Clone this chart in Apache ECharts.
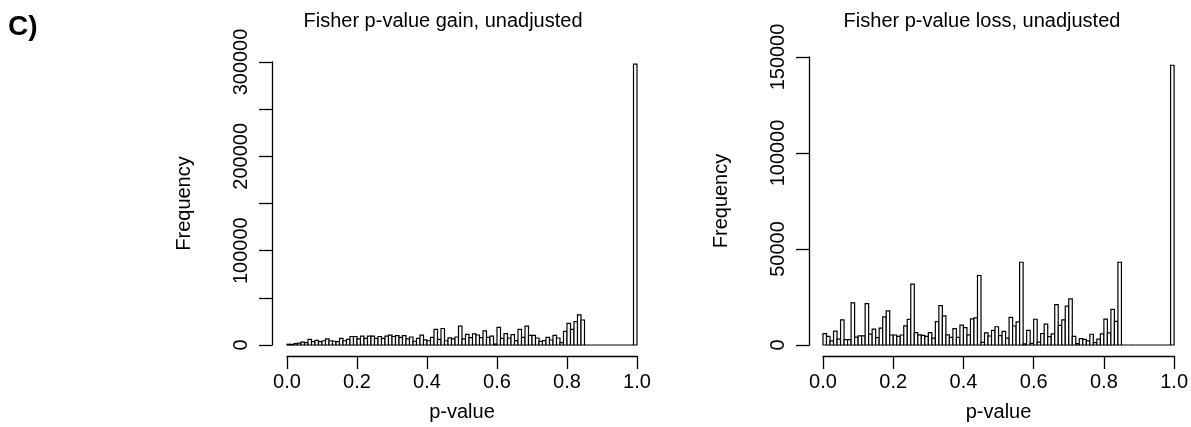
<!DOCTYPE html>
<html>
<head>
<meta charset="utf-8">
<script src="https://cdn.jsdelivr.net/npm/echarts@6/dist/echarts.min.js"></script>
<style>
  html, body { margin: 0; padding: 0; background: #fff; }
  #main { width: 1191px; height: 427px; }
</style>
</head>
<body>
<div id="main"></div>
<script>
// histogram breaks: 0.00, 0.01, ... 1.00
const binWidth = 0.01;
const xTicks = [0, 0.2, 0.4, 0.6, 0.8, 1.0];

// Fisher p-value gain, unadjusted (counts per bin)
const gainCounts = [
  800, 600, 1500, 2000, 3000, 2500, 6000, 3500, 5000, 3500,
  4500, 6500, 4500, 4000, 3500, 7000, 4500, 6000, 9000, 9000,
  6500, 9500, 7000, 9500, 9500, 7000, 9000, 7000, 9500, 10500,
  9000, 10000, 8000, 10000, 6500, 8500, 4000, 7000, 10500, 5500,
  4500, 8000, 16500, 6000, 17500, 4500, 7500, 6500, 8500, 20000,
  6500, 11300, 7800, 11700, 10600, 7800, 15000, 8000, 9500, 1000,
  18700, 7000, 12000, 7400, 11000, 4600, 16600, 8100, 20100, 10200,
  10200, 7400, 3900, 4600, 8100, 5300, 10200, 7400, 2500, 14500,
  23000, 16600, 24700, 32000, 26500, 0, 0, 0, 0, 0,
  0, 0, 0, 0, 0, 0, 0, 0, 0, 297700
];

// Fisher p-value loss, unadjusted (counts per bin)
const lossCounts = [
  5900, 4500, 2200, 7200, 3100, 13100, 2800, 2800, 21900, 4100,
  4800, 4800, 21500, 5700, 8300, 3800, 8800, 14700, 17800, 5200,
  5200, 4500, 5200, 10000, 13300, 31700, 6400, 5300, 5000, 4500,
  6400, 3600, 12200, 20500, 15200, 5300, 4000, 8500, 4000, 10300,
  9100, 5300, 13600, 14100, 36200, 1400, 6300, 4700, 7600, 9500,
  4900, 7100, 3600, 14400, 9900, 12000, 43100, 600, 7600, 800,
  13400, 1500, 6000, 10900, 4400, 5800, 21000, 10200, 13100, 20200,
  24000, 4500, 700, 3300, 2900, 2100, 5600, 1200, 3100, 5800,
  13500, 6300, 18600, 12300, 43100, 0, 0, 0, 0, 0,
  0, 0, 0, 0, 0, 0, 0, 0, 0, 145700
];

const FONT = '"Liberation Sans", Arial, Helvetica, sans-serif';

function toBins(counts) {
  return counts.map((n, i) => [i * binWidth, (i + 1) * binWidth, n]);
}

// draw each bin as an outlined rect, like R's hist()
function histItem(params, api) {
  const p0 = api.coord([api.value(0), api.value(2)]);
  const p1 = api.coord([api.value(1), 0]);
  return {
    type: 'rect',
    shape: { x: p0[0], y: p0[1], width: p1[0] - p0[0], height: p1[1] - p0[1] },
    style: { fill: '#fff', stroke: '#000', lineWidth: 1.2 }
  };
}

function xAxisOf(gridIndex) {
  return {
    gridIndex: gridIndex,
    type: 'value',
    min: 0,
    max: 1,
    interval: 0.2,
    offset: 11,
    name: 'p-value',
    nameLocation: 'middle',
    nameGap: 46,
    nameTextStyle: { fontFamily: FONT, fontSize: 20, color: '#000' },
    axisLine: { show: true, onZero: false, lineStyle: { color: '#000', width: 1.3 } },
    axisTick: { show: true, length: 13, lineStyle: { color: '#000', width: 1.3 } },
    axisLabel: {
      fontFamily: FONT, fontSize: 20, color: '#000', margin: 16,
      formatter: v => v.toFixed(1)
    },
    splitLine: { show: false }
  };
}

function yAxisOf(gridIndex, max, labelStep, offset) {
  return {
    gridIndex: gridIndex,
    type: 'value',
    min: 0,
    max: max,
    interval: 50000,
    offset: offset,
    name: 'Frequency',
    nameLocation: 'middle',
    nameRotate: 90,
    nameGap: 78,
    nameTextStyle: { fontFamily: FONT, fontSize: 20, color: '#000' },
    axisLine: { show: true, onZero: false, lineStyle: { color: '#000', width: 1.3 } },
    axisTick: { show: true, length: 13, lineStyle: { color: '#000', width: 1.3 } },
    axisLabel: {
      fontFamily: FONT, fontSize: 20, color: '#000', rotate: 90, margin: 21,
      formatter: v => (v % labelStep === 0 ? String(v) : '')
    },
    splitLine: { show: false }
  };
}

const chart = echarts.init(document.getElementById('main'), null, { renderer: 'canvas' });

chart.setOption({
  backgroundColor: '#fff',
  animation: false,
  title: [
    {
      text: 'C)', left: 8, top: 13, padding: 0,
      textStyle: { fontFamily: FONT, fontSize: 28, fontWeight: 'bold', color: '#000' }
    },
    {
      text: 'Fisher p-value gain, unadjusted', left: 443, top: 11, padding: 0, textAlign: 'center',
      textStyle: { fontFamily: FONT, fontSize: 20, fontWeight: 'normal', color: '#000' }
    },
    {
      text: 'Fisher p-value loss, unadjusted', left: 982, top: 11, padding: 0, textAlign: 'center',
      textStyle: { fontFamily: FONT, fontSize: 20, fontWeight: 'normal', color: '#000' }
    }
  ],
  grid: [
    { left: 287, right: 554, top: 62, bottom: 81 },
    { left: 823, right: 15, top: 57, bottom: 81 }
  ],
  xAxis: [xAxisOf(0), xAxisOf(1)],
  yAxis: [yAxisOf(0, 300000, 100000, 15), yAxisOf(1, 150000, 50000, 14)],
  series: [
    {
      name: 'gain',
      type: 'custom',
      xAxisIndex: 0,
      yAxisIndex: 0,
      renderItem: histItem,
      encode: { x: [0, 1], y: 2 },
      data: toBins(gainCounts)
    },
    {
      name: 'loss',
      type: 'custom',
      xAxisIndex: 1,
      yAxisIndex: 1,
      renderItem: histItem,
      encode: { x: [0, 1], y: 2 },
      data: toBins(lossCounts)
    }
  ]
});
</script>
</body>
</html>
